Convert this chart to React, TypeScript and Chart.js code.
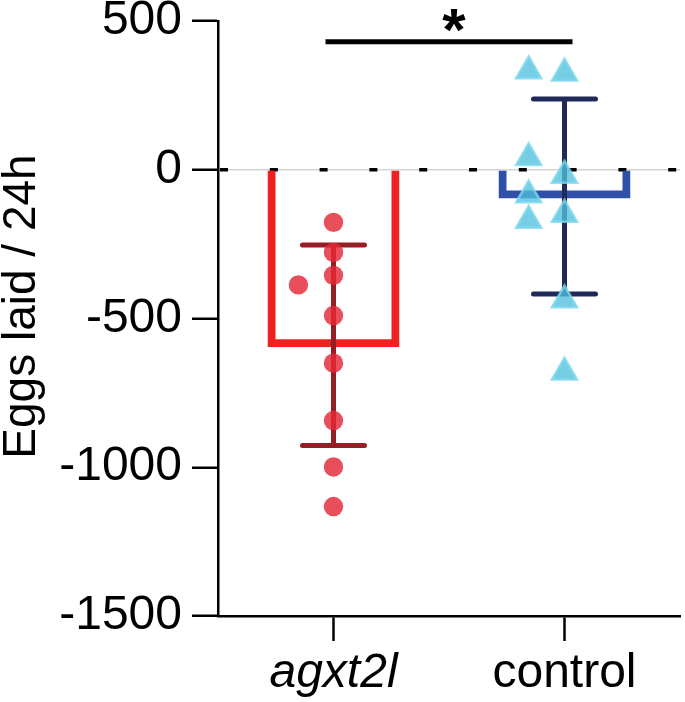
import { useRef, useEffect } from 'react';
import Chart from 'chart.js/auto';

const FONT = "'Liberation Sans', Arial, sans-serif";

const categories = ['agxt2l', 'control'];
const groupMeans = [-590, -90];
const groupSD = [337, 328];

// single animals, x jitter is in category units
const agxtValues = [-177, -278, -355, -387, -490, -650, -843, -999, -1132];
const agxtJitter = [0, 0, 0, -0.152, 0, 0, 0, 0, 0];
const controlValues = [332, 324, 40, -19, -85, -150, -171, -438, -681];
const controlJitter = [-0.155, 0, -0.155, 0, -0.155, 0, -0.155, 0, 0];

const yMin = -1500;
const yMax = 500;
const yStep = 500;
const yTitle = 'Eggs laid / 24h';
const sigLevel = 430;
const sigLabel = '*';

const barColors = ['#ee2222', '#3050a8'];
const whiskerColors = ['#971d24', '#1f2a5a'];

const overlay = {
  id: 'overlay',
  beforeDatasetsDraw(chart: any) {
    const { ctx, chartArea, scales } = chart;
    const y0 = scales.y.getPixelForValue(0);
    ctx.save();
    ctx.strokeStyle = '#000';
    ctx.lineWidth = 3.5;
    ctx.setLineDash([8, 41.8]);
    ctx.beginPath();
    ctx.moveTo(chartArea.left + 2, y0);
    ctx.lineTo(chartArea.right, y0);
    ctx.stroke();
    ctx.restore();
  },
  afterDatasetDraw(chart: any, args: any) {
    if (args.index !== 0) return;
    const { ctx, scales } = chart;
    ctx.save();
    ctx.lineWidth = 5;
    ctx.lineCap = 'round';
    categories.forEach((c, i) => {
      const x = scales.x.getPixelForValue(i);
      const top = scales.y.getPixelForValue(groupMeans[i] + groupSD[i]);
      const bot = scales.y.getPixelForValue(groupMeans[i] - groupSD[i]);
      ctx.strokeStyle = whiskerColors[i];
      ctx.beginPath();
      ctx.moveTo(x, top);
      ctx.lineTo(x, bot);
      ctx.moveTo(x - 31, top);
      ctx.lineTo(x + 31, top);
      ctx.moveTo(x - 31, bot);
      ctx.lineTo(x + 31, bot);
      ctx.stroke();
    });
    ctx.restore();
  },
  afterDraw(chart: any) {
    const { ctx, scales, chartArea } = chart;
    const x0 = scales.x.getPixelForValue(0) - 8;
    const x1 = scales.x.getPixelForValue(1) + 8;
    const y = scales.y.getPixelForValue(sigLevel);
    ctx.save();
    ctx.strokeStyle = '#000';
    ctx.lineWidth = 5;
    ctx.beginPath();
    ctx.moveTo(x0, y);
    ctx.lineTo(x1, y);
    ctx.stroke();
    ctx.fillStyle = '#000';
    ctx.font = `bold 60px ${FONT}`;
    ctx.textAlign = 'center';
    ctx.textBaseline = 'alphabetic';
    const m = ctx.measureText(sigLabel);
    const cy = y - 21;
    ctx.fillText(sigLabel, (x0 + x1) / 2 + 5, cy + (m.actualBoundingBoxAscent - m.actualBoundingBoxDescent) / 2);

    // y axis title
    ctx.font = `46px ${FONT}`;
    ctx.translate(35, (chartArea.top + chartArea.bottom) / 2 - 12);
    ctx.rotate(-Math.PI / 2);
    ctx.fillText(yTitle, 0, 0);
    ctx.restore();
  },
};

const App = () => {
  const canvasRef = useRef<HTMLCanvasElement | null>(null);

  useEffect(() => {
    if (!canvasRef.current) return;
    const chart = new Chart(canvasRef.current, {
      type: 'bar',
      data: {
        datasets: [
          {
            type: 'bar',
            data: groupMeans.map((v, i) => ({ x: i, y: v })),
            backgroundColor: 'rgba(0,0,0,0)',
            borderColor: barColors,
            borderWidth: 4,
            inflateAmount: 2,
            borderSkipped: 'start',
            barThickness: 128,
            grouped: false,
            order: 3,
          } as any,
          {
            type: 'line',
            data: agxtValues.map((v, i) => ({ x: 0 + agxtJitter[i], y: v })),
            showLine: false,
            pointStyle: 'circle',
            pointRadius: 9.7,
            pointBackgroundColor: 'rgba(228, 40, 55, 0.82)',
            pointBorderWidth: 0,
            order: 1,
          } as any,
          {
            type: 'line',
            data: controlValues.map((v, i) => ({ x: 1 + controlJitter[i], y: v })),
            showLine: false,
            pointStyle: 'triangle',
            pointRadius: 14.5,
            pointBackgroundColor: 'rgba(80, 192, 222, 0.78)',
            pointBorderColor: 'rgba(125, 215, 238, 0.8)',
            pointBorderWidth: 2.5,
            order: 1,
          } as any,
        ],
      },
      options: {
        animation: false,
        responsive: true,
        maintainAspectRatio: false,
        layout: { autoPadding: false, padding: { top: 21, right: 5, left: 0, bottom: 0 } },
        plugins: {
          legend: { display: false },
          tooltip: { enabled: false },
        },
        scales: {
          x: {
            type: 'linear',
            min: -0.5,
            max: 1.5,
            offset: false,
            grid: {
              offset: false,
              drawOnChartArea: false,
              tickLength: 25,
              tickColor: '#000',
              tickWidth: 2.5,
            },
            border: { color: '#000', width: 2.5 },
            afterBuildTicks: (s: any) => {
              s.ticks = categories.map((c, i) => ({ value: i }));
            },
            ticks: {
              color: '#000',
              padding: 4,
              maxRotation: 0,
              autoSkip: false,
              callback: (v: any) => categories[v],
              font: (ctx: any) => ({
                family: FONT,
                size: 48,
                style: ctx.index === 0 ? 'italic' : 'normal',
              }),
            },
            afterFit: (s: any) => {
              s.height = 86;
              s.paddingLeft = 0;
              s.paddingRight = 0;
            },
          },
          y: {
            min: yMin,
            max: yMax,
            ticks: {
              stepSize: yStep,
              color: '#000',
              padding: 10,
              font: { family: FONT, size: 48 },
              callback: (v: any) => String(v),
            },
            grid: {
              color: (ctx: any) => (ctx.tick && ctx.tick.value === 0 ? '#d4d4d4' : 'rgba(0,0,0,0)'),
              lineWidth: 1.5,
              tickColor: '#000',
              tickLength: 26,
              tickWidth: 2.5,
            },
            border: { color: '#000', width: 2.5 },
            afterFit: (s: any) => {
              s.width = 218;
              s.paddingTop = 0;
              s.paddingBottom = 0;
            },
          },
        },
      } as any,
      plugins: [overlay],
    });

    return () => {
      chart.destroy();
    };
  }, []);

  return (
    <div style={{ position: 'fixed', left: 0, top: 0, width: 685, height: 702, background: '#fff' }}>
      <canvas ref={canvasRef} />
    </div>
  );
};

export default App;
